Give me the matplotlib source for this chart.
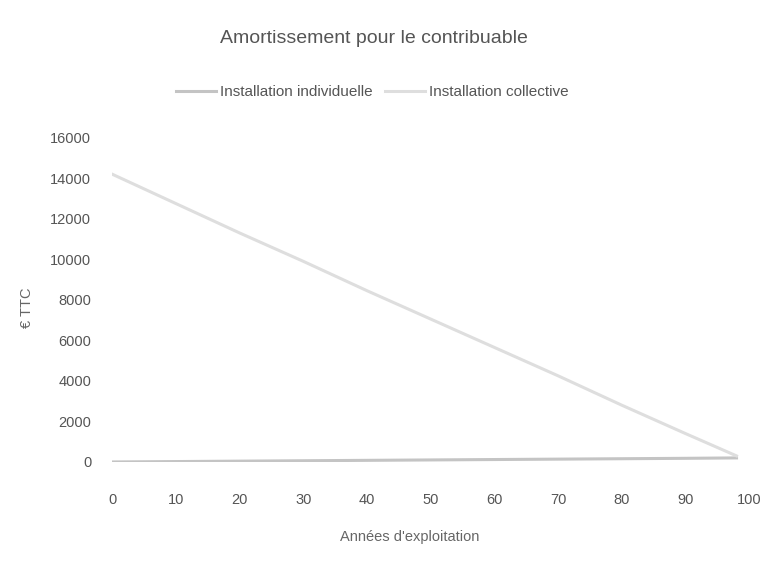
import numpy as np
import matplotlib
matplotlib.use('Agg')
import matplotlib.pyplot as plt

### Amortissement pour le contribuable - individuelle vs collective

plt.rcParams['font.family'] = ['Liberation Sans', 'DejaVu Sans']

annees = [0, 10, 20, 30, 40, 50, 60, 70, 80, 90, 98]
individuelle = [0, 20, 40, 60, 80, 100, 120, 140, 160, 180, 200]
collective = [14200, 12750, 11300, 9900, 8450, 7050, 5650, 4250, 2800, 1400, 300]

x_ticks = list(range(0, 101, 10))
y_ticks = list(range(0, 16001, 2000))

fig = plt.figure(figsize=(7.63, 5.62), dpi=100)
ax = fig.add_axes([0.147, 0.178, 0.835, 0.577])

ax.plot(annees, individuelle, color='#c4c4c4', lw=2.2, label='Installation individuelle')
ax.plot(annees, collective, color='#dedede', lw=2.2, label='Installation collective')

ax.set_xlim(0, 100)
ax.set_ylim(0, 16000)
ax.set_xticks(x_ticks)
ax.set_yticks(y_ticks)
ax.tick_params(axis='both', length=0, labelsize=10.5, labelcolor='#555555')
ax.tick_params(axis='x', pad=22)
ax.tick_params(axis='y', pad=15)
for s in ax.spines.values():
    s.set_visible(False)

fig.text(0.49, 0.932, 'Amortissement pour le contribuable', ha='center', va='center',
         fontsize=14, color='#555555')
fig.text(0.537, 0.045, "Années d'exploitation", ha='center', va='center',
         fontsize=10.5, color='#666666')
fig.text(0.035, 0.452, '€ TTC', ha='center', va='center', rotation=90,
         fontsize=10.5, color='#666666')

fig.legend(loc='center', bbox_to_anchor=(0.488, 0.836), ncol=2, frameon=False,
           fontsize=11, handlelength=2.6, handletextpad=0.3, columnspacing=0.8,
           labelcolor='#555555')

fig.savefig('out.png', dpi=100)
